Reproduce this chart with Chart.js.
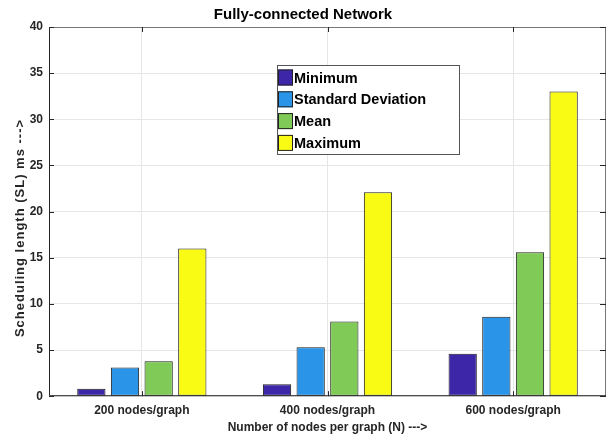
<!DOCTYPE html>
<html>
<head>
<meta charset="utf-8">
<script src="https://cdn.jsdelivr.net/npm/chart.js@4.4.1/dist/chart.umd.min.js"></script>
<style>
  html, body { margin: 0; padding: 0; background: #fff; }
  #wrap { width: 614px; height: 443px; }
</style>
</head>
<body>
<div id="wrap"><canvas id="chart" width="614" height="443"></canvas></div>
<script>
const categories = ['200 nodes/graph', '400 nodes/graph', '600 nodes/graph'];
const seriesNames = ['Minimum', 'Standard Deviation', 'Mean', 'Maximum'];
const minimum = [0.8, 1.3, 4.6];
const stdDev = [3.1, 5.3, 8.6];
const mean = [3.8, 8.1, 15.6];
const maximum = [16.0, 22.1, 33.0];
const yTickValues = [0, 5, 10, 15, 20, 25, 30, 35, 40];
const yTitle = 'Scheduling length (SL) ms --->';

const colors = ['#3e26a8', '#2994e8', '#80cb58', '#f9fb15'];
const font = 'Liberation Sans, Arial, sans-serif';

// legend box drawn inside the plot, like the matlab one
const boxLegend = {
    id: 'boxLegend',
    afterDraw(chart) {
        const ctx = chart.ctx;
        ctx.save();
        ctx.fillStyle = '#fff';
        ctx.fillRect(277, 65, 182, 89);
        ctx.strokeStyle = '#555';
        ctx.lineWidth = 1;
        ctx.strokeRect(277.5, 65.5, 182, 89);
        ctx.font = 'bold 14.5px ' + font;
        ctx.textBaseline = 'middle';
        chart.data.datasets.forEach((ds, i) => {
            const cy = 77.5 + i * 21.8;
            ctx.fillStyle = ds.backgroundColor;
            ctx.fillRect(278, cy - 8, 15, 16);
            ctx.strokeStyle = '#222';
            ctx.strokeRect(278.5, cy - 7.5, 14, 15);
            ctx.fillStyle = '#000';
            ctx.fillText(ds.label, 294, cy + 1);
        });
        ctx.restore();
    }
};

// y label with a bit of letter spacing (chart.js can't do that itself)
const yLabel = {
    id: 'yLabel',
    afterDraw(chart) {
        const ctx = chart.ctx;
        ctx.save();
        ctx.translate(20, 228);
        ctx.rotate(-Math.PI / 2);
        ctx.font = 'bold 13px ' + font;
        ctx.letterSpacing = '1px';
        ctx.fillStyle = '#262626';
        ctx.textAlign = 'center';
        ctx.textBaseline = 'middle';
        ctx.fillText(yTitle, 0, 0);
        ctx.restore();
    }
};

// outer box + inward tick marks
const axesBox = {
    id: 'axesBox',
    afterDatasetsDraw(chart) {
        const { ctx, chartArea: a, scales } = chart;
        ctx.save();
        ctx.lineWidth = 1;
        ctx.strokeStyle = '#777';
        ctx.beginPath();
        ctx.moveTo(a.left, a.top + 0.5);
        ctx.lineTo(a.right - 0.5, a.top + 0.5);
        ctx.lineTo(a.right - 0.5, a.bottom);
        ctx.stroke();
        ctx.strokeStyle = '#262626';
        ctx.beginPath();
        ctx.moveTo(a.left + 0.5, a.top);
        ctx.lineTo(a.left + 0.5, a.bottom - 0.5);
        ctx.lineTo(a.right, a.bottom - 0.5);
        ctx.stroke();
        ctx.beginPath();
        yTickValues.forEach(v => {
            const y = Math.round(scales.y.getPixelForValue(v)) + 0.5;
            ctx.moveTo(a.left, y); ctx.lineTo(a.left + 5, y);
            ctx.moveTo(a.right, y); ctx.lineTo(a.right - 6, y);
        });
        categories.forEach((c, i) => {
            const x = Math.round(scales.x.getPixelForValue(i)) + 0.5;
            ctx.moveTo(x, a.bottom); ctx.lineTo(x, a.bottom - 5);
            ctx.moveTo(x, a.top); ctx.lineTo(x, a.top + 5);
        });
        ctx.stroke();
        ctx.restore();
    }
};

const values = [minimum, stdDev, mean, maximum];

new Chart(document.getElementById('chart'), {
    type: 'bar',
    data: {
        labels: categories,
        datasets: seriesNames.map((name, i) => ({
            label: name,
            data: values[i],
            backgroundColor: colors[i],
            borderColor: '#1e1e1e',
            borderWidth: 1,
            borderSkipped: false,
            categoryPercentage: 0.725,
            barPercentage: 0.84
        }))
    },
    options: {
        responsive: false,
        animation: false,
        layout: { padding: { left: 0, right: 8, top: 0, bottom: 4 } },
        plugins: {
            legend: { display: false },
            tooltip: { enabled: false },
            title: {
                display: true,
                text: 'Fully-connected Network',
                color: '#000',
                font: { family: font, size: 15, weight: 'bold' },
                padding: { top: 5.5, bottom: 3.5 }
            }
        },
        scales: {
            x: {
                grid: { color: '#e6e6e6', offset: false, drawTicks: false },
                border: { display: false },
                ticks: { color: '#262626', padding: 7, font: { family: font, size: 12, weight: 'bold' } },
                title: {
                    display: true,
                    text: 'Number of nodes per graph (N) --->',
                    color: '#262626',
                    font: { family: font, size: 12, weight: 'bold' },
                    padding: { top: -4, bottom: 4 }
                }
            },
            y: {
                min: 0,
                max: 40,
                afterFit(scale) { scale.width = 49; },
                afterBuildTicks(scale) { scale.ticks = yTickValues.map(v => ({ value: v })); },
                grid: { color: '#e6e6e6', drawTicks: false },
                border: { display: false },
                ticks: { color: '#262626', padding: 6, font: { family: font, size: 12, weight: 'bold' } }
            }
        }
    },
    plugins: [axesBox, boxLegend, yLabel]
});
</script>
</body>
</html>
